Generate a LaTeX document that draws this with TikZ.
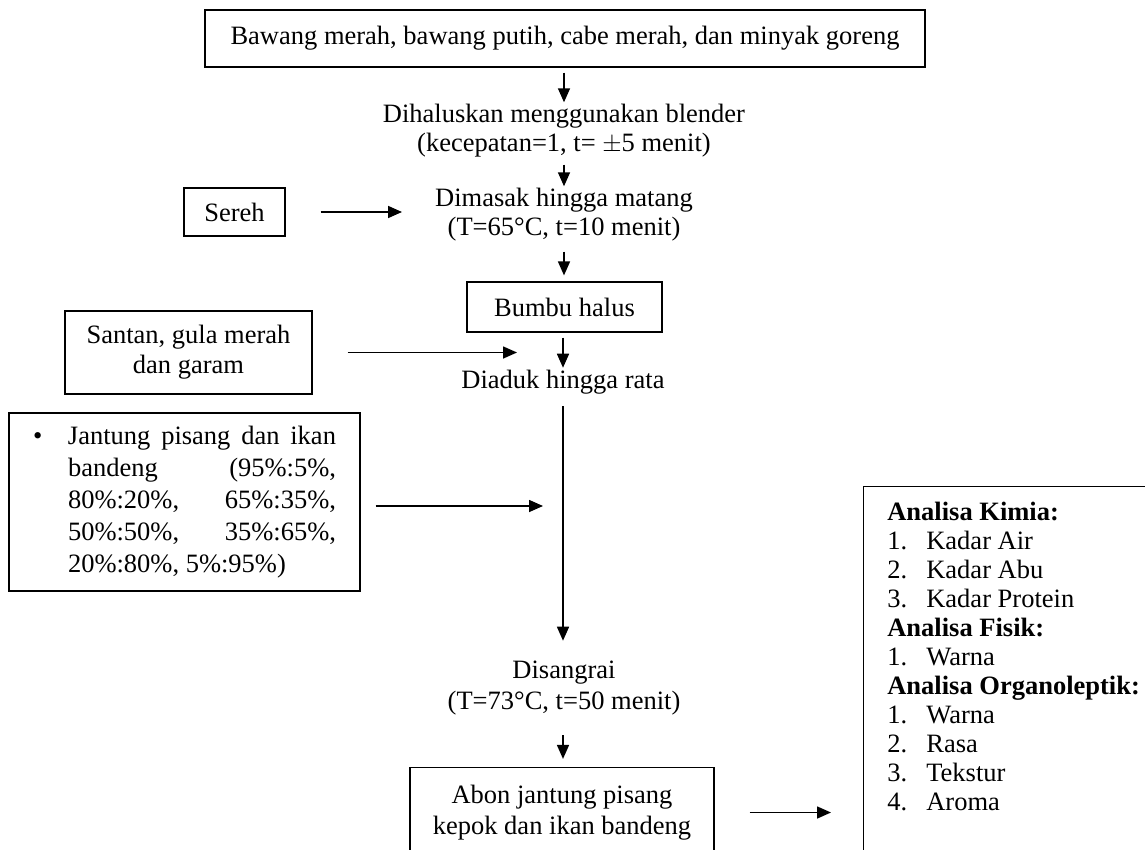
\documentclass[tikz,border=0pt]{standalone}
\usepackage{fontspec}
\setmainfont{Liberation Serif}
\usetikzlibrary{arrows.meta}

\newcommand{\nitem}[2]{\makebox[39pt][l]{#1}#2}

\begin{document}
\begin{tikzpicture}[x=1pt,y=-1pt,font=\fontsize{26.5}{29}\selectfont,
	box/.style={draw, line width=1.2pt, align=center, inner sep=0pt},
	step text/.style={align=center, inner sep=2pt, font=\fontsize{26.5}{29}\selectfont},
	arr/.style={-{Triangle[length=14pt,width=12pt]}, line width=1.6pt}]
			\useasboundingbox (0,0) rectangle (1145,850);
			\clip (0,0) rectangle (1145,850);
			% Nodes
			\node[box, minimum width=720, minimum height=57] (bahan) at (565,38.5) {Bawang merah, bawang putih, cabe merah, dan minyak goreng};
			\node[step text] (halus) at (564,131) {Dihaluskan menggunakan blender\\(kecepatan=1, t= $\pm$5 menit)};
			\node[step text] (masak) at (564,215) {Dimasak hingga matang\\(T=65°C, t=10 menit)};
			\node[box, minimum width=101, minimum height=48] (sereh) at (234.5,212) {Sereh};
			\node[box, minimum width=195, minimum height=50] (bumbu) at (564.5,307) {Bumbu halus};
			\node[box, minimum width=247, minimum height=83, font=\fontsize{26.5}{30}\selectfont] (santan) at (188.5,352.5) {Santan, gula merah\\dan garam};
			\node[step text] (aduk) at (563,382) {Diaduk hingga rata};
			\node[box, align=left, minimum width=347, minimum height=178, inner xsep=24pt, font=\fontsize{26.5}{32}\selectfont] (jantung) at (184.5,502)
			{\makebox[35pt][l]{\textbullet}\parbox[t]{268pt}{\makebox[268pt][s]{Jantung pisang dan ikan}\\
			bandeng\hfill(95\%:5\%,\\
			80\%:20\%,\hfill65\%:35\%,\\
			50\%:50\%,\hfill35\%:65\%,\\
			20\%:80\%, 5\%:95\%)}};
			\node[step text, font=\fontsize{26.5}{31}\selectfont] (sangrai) at (564,688) {Disangrai\\(T=73°C, t=50 menit)};
			\node[box, minimum width=304, minimum height=90, font=\fontsize{26.5}{31}\selectfont] (abon) at (562,812.5) {Abon jantung pisang\\kepok dan ikan bandeng};
			\node[box, align=left, anchor=north west, minimum width=300, inner xsep=20pt, inner ysep=16pt, text depth=70pt] (analisa) at (863,486)
			{\textbf{Analisa Kimia:}\\
			\nitem{1.}{Kadar Air}\\
			\nitem{2.}{Kadar Abu}\\
			\nitem{3.}{Kadar Protein}\\
			\textbf{Analisa Fisik:}\\
			\nitem{1.}{Warna}\\
			\textbf{Analisa Organoleptik:}\\
			\nitem{1.}{Warna}\\
			\nitem{2.}{Rasa}\\
			\nitem{3.}{Tekstur}\\
			\nitem{4.}{Aroma}};
			
			% Arrows
			\draw[arr, shorten <=5pt] (bahan.south -| halus) -- (halus.north);
			\draw[arr, shorten <=5pt] (halus.south) -- (masak.north);
			\draw[arr, shorten <=35pt, shorten >=31pt] (sereh.east) -- (sereh.east -| masak.west);
			\draw[arr, shorten <=8pt, shorten >=6pt] (masak.south) -- (masak.south |- bumbu.north);
			\draw[arr, shorten <=5pt] (bumbu.south -| aduk) -- (aduk.north);
			\draw[arr, shorten <=35pt, shorten >=46pt] (santan.east) -- (santan.east -| aduk.north);
			\draw[arr, shorten <=10pt, shorten >=18pt] (aduk.south) -- (aduk.south |- sangrai.north);
			\draw[arr, shorten <=15pt, shorten >=20pt] ([yshift=-4pt]jantung.east) -- ([yshift=-4pt]jantung.east -| aduk.south);
			\draw[arr, shorten <=18pt, shorten >=8pt] (sangrai.south -| aduk) -- (aduk |- abon.north);
			\draw[arr, shorten <=35pt, shorten >=32pt] (abon.east) -- (abon.east -| analisa.west);
			
		\end{tikzpicture}
\end{document}
